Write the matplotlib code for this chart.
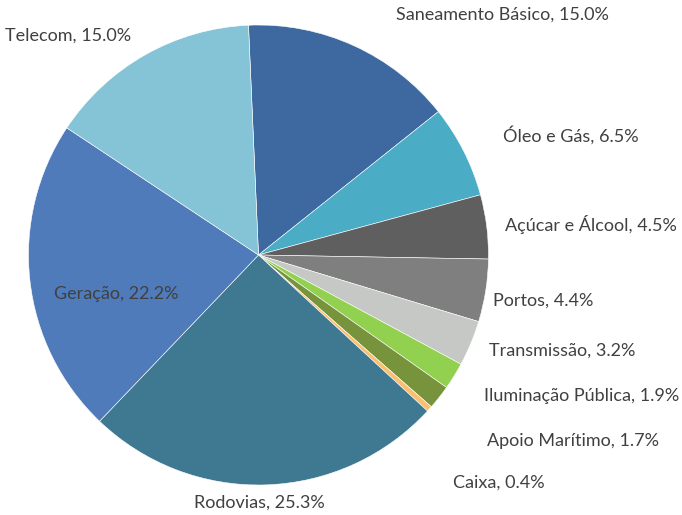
import matplotlib.pyplot as plt

plt.rcParams['font.family'] = ['Lato', 'DejaVu Sans']

# Data
setores = ['Saneamento Básico', 'Óleo e Gás', 'Açúcar e Álcool', 'Portos',
           'Transmissão', 'Iluminação Pública', 'Apoio Marítimo', 'Caixa',
           'Rodovias', 'Geração', 'Telecom']
percentuais = [15.0, 6.5, 4.5, 4.4, 3.2, 1.9, 1.7, 0.4, 25.3, 22.2, 15.0]
cores = ['#3D69A0', '#4BACC6', '#5F5F5F', '#7F7F7F', '#C6C8C5', '#92D050',
         '#77933C', '#FAC06E', '#3F7891', '#4F7BBA', '#85C3D6']

# label placement (pixel layout, like Excel's best fit)
label_pos = [(502, 15), (571, 135), (591, 224), (543, 301), (562, 351),
             (582, 396), (573, 441), (499, 483), (259, 503), (116, 294),
             (68, 36)]

W, H = 682, 515
fig = plt.figure(figsize=(W / 100, H / 100), dpi=100)
ax = fig.add_axes([0, 0, 1, 1])
ax.set_xlim(0, W)
ax.set_ylim(H, 0)
ax.axis('off')

# y axis is inverted, so counterclock=True draws clockwise on screen
ax.pie(percentuais, colors=cores, center=(258.5, 255), radius=230,
       startangle=-92.5, counterclock=True,
       wedgeprops=dict(edgecolor='white', linewidth=0.4), frame=True)
ax.set_xlim(0, W)
ax.set_ylim(H, 0)
ax.set_aspect('equal')
ax.axis('off')

for nome, v, (x, y) in zip(setores, percentuais, label_pos):
    ax.text(x, y, f'{nome}, {v:.1f}%', ha='center', va='center',
            fontsize=13, color='#404040')

fig.savefig('out.png', dpi=100)
